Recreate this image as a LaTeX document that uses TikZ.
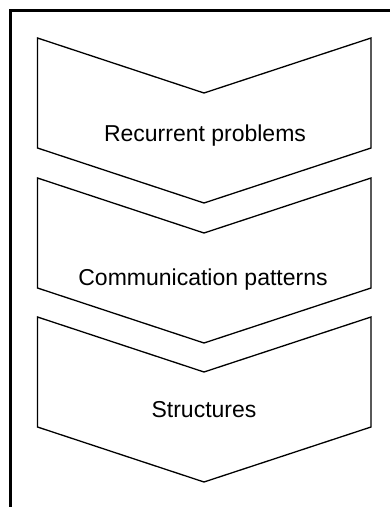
\documentclass[tikz,border=0pt]{standalone}
\usepackage{fontspec}
\setmainfont{Liberation Sans}
\begin{document}
\begin{tikzpicture}[x=1pt,y=-1pt,
  chev/.style={draw=black,line width=1.3pt,line join=miter,fill=white},
  frameline/.style={draw=black,line width=2.6pt},
  lbl/.style={font=\fontsize{23}{27}\selectfont,inner sep=0pt,anchor=center}]
\useasboundingbox (0,0) rectangle (390,507);
\draw[frameline] (10.7,510) -- (10.7,10.7) -- (393,10.7);
% chevrons
\foreach \t in {38,178,317}{
  \draw[chev] (37.5,\t) -- (204,\t+55) -- (371,\t) -- (371,\t+110) -- (204,\t+165) -- (37.5,\t+110) -- cycle;
}
\node[lbl] (t1) at (205,136) {Recurrent problems};
\node[lbl] (t2) at (203,280) {Communication patterns};
\node[lbl] (t3) at (204,410) {Structures};
\end{tikzpicture}
\end{document}
